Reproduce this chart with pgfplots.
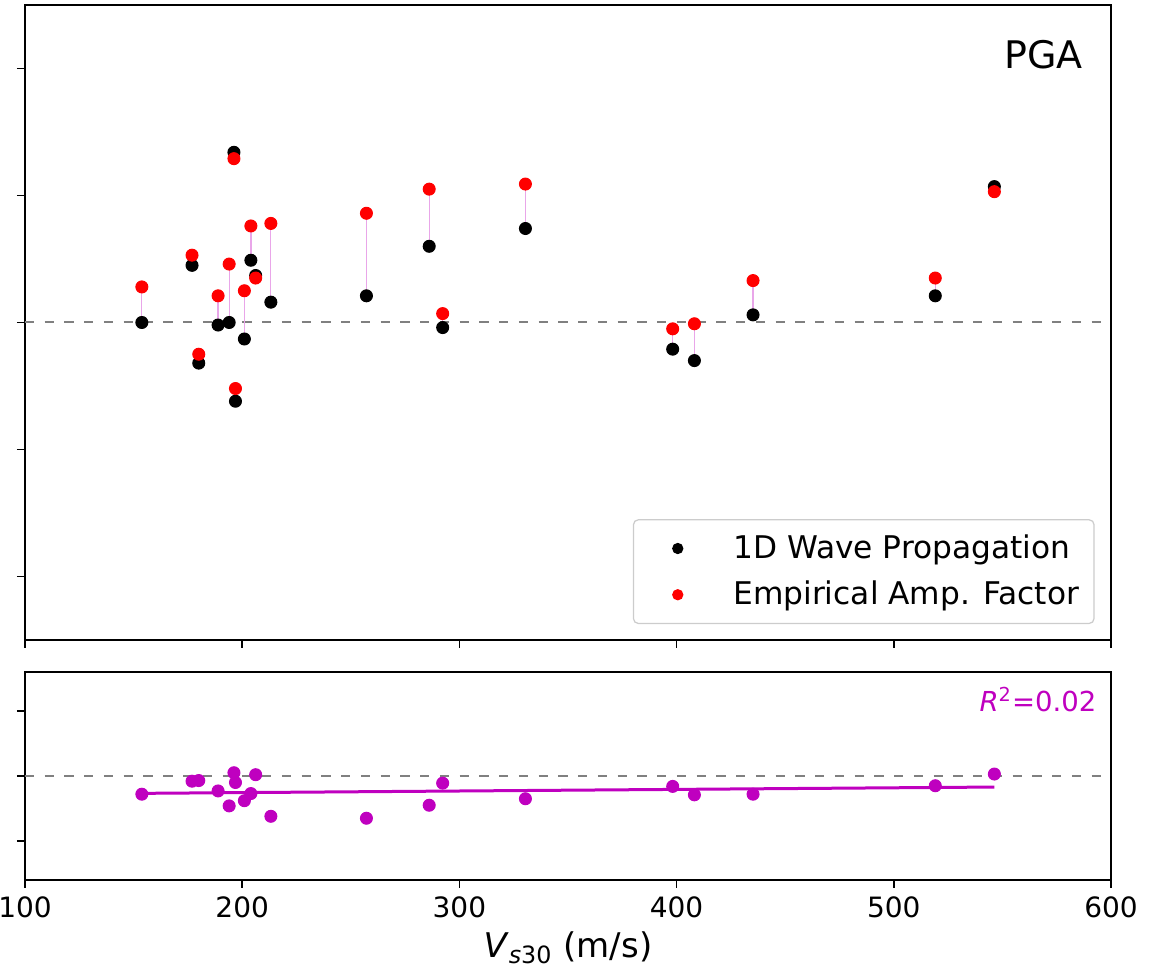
\documentclass[border=0pt]{standalone}
\usepackage{fontspec}
\setmainfont{DejaVu Sans}
\usepackage{pgfplots}
\usepackage{pgfplotstable}
\pgfplotsset{compat=1.18}
\definecolor{mpm}{rgb}{0.75,0,0.75}
\definecolor{mpred}{rgb}{1,0,0}

\pgfplotstableread{
vs    wave   emp    res
153.8  0.00  0.28  -0.28
176.9  0.45  0.53  -0.08
180.0 -0.32 -0.25  -0.07
188.9 -0.02  0.21  -0.23
194.0  0.00  0.46  -0.46
196.2  1.34  1.29   0.05
196.9 -0.62 -0.52  -0.10
201.0 -0.13  0.25  -0.38
204.0  0.49  0.76  -0.27
206.2  0.37  0.35   0.02
213.2  0.16  0.78  -0.62
257.2  0.21  0.86  -0.65
286.1  0.60  1.05  -0.45
292.3 -0.04  0.07  -0.11
330.4  0.74  1.09  -0.35
398.2 -0.21 -0.05  -0.16
408.2 -0.30 -0.01  -0.29
435.2  0.06  0.33  -0.28
519.1  0.21  0.35  -0.15
546.3  1.07  1.03   0.03
}\data

\pgfplotstableread{
vs     fit
153.8 -0.267
546.3 -0.170
}\fitdata

\begin{document}
\begin{tikzpicture}
\path[use as bounding box] (0pt,0pt) rectangle (468.4pt,387.6pt);
\pgfplotsset{
  myaxis/.style={
    scale only axis,
    width=434.4pt,
    xmin=100, xmax=600,
    xtick={100,200,...,600},
    tick align=outside,
    xtick pos=bottom, ytick pos=left,
    major tick length=3.2pt,
    axis line style={black, line width=0.6pt},
    every tick/.style={black, line width=0.6pt},
    tick label style={font=\fontsize{11.2}{13}\selectfont},
    /pgf/number format/assume math mode=true,
  }
}
\begin{axis}[myaxis,
  at={(10pt,131.6pt)}, anchor=south west,
  height=254pt,
  ymin=-2.5, ymax=2.5,
  ytick={-2,-1,0,1,2}, yticklabels={},
  xticklabels={},
  legend style={at={(0.985,0.025)}, anchor=south east, draw=black!20,
    rounded corners=2pt, line width=0.5pt,
    font=\fontsize{12.5}{15}\selectfont,
    inner xsep=4pt, inner ysep=4pt, row sep=3.5pt},
  legend cell align=left,
  legend image code/.code={\path (0pt,0pt) (33.5pt,0pt);
    \draw[#1, mark size=2pt] plot coordinates {(13.5pt,0pt)};},
]
\addplot[black!50, line width=0.8pt, dash pattern=on 3.7pt off 4.2pt, forget plot]
  coordinates {(100,0) (600,0)};
\addplot[only marks, mark=*, mark size=2.4pt, black, draw=black, fill=black]
  table[x=vs, y=wave]{\data};
\addlegendentry{1D Wave Propagation}
\addplot[mpm!35, line width=0.5pt, mark=none, forget plot,
  quiver={u=0, v=\thisrow{emp}-\thisrow{wave}}]
  table[x=vs, y=wave]{\data};
\addplot[only marks, mark=*, mark size=2.4pt, draw=mpred, fill=mpred]
  table[x=vs, y=emp]{\data};
\addlegendentry{Empirical Amp. Factor}
\node[anchor=base east, font=\fontsize{15.2}{18}\selectfont, inner sep=0pt]
  at (rel axis cs:0.9742,0.9003) {PGA};
\end{axis}

\begin{axis}[myaxis,
  at={(10pt,35.6pt)}, anchor=south west,
  height=83.2pt,
  ymin=-1.6, ymax=1.6,
  ytick={-1,0,1}, yticklabels={},
  xlabel={\textit{V}\textsubscript{\textit{s}30} (m/s)},
  xlabel style={font=\fontsize{13.6}{16}\selectfont, at={(axis description cs:0.5,0)},
    anchor=base, yshift=-31.2pt, inner sep=0pt},
]
\addplot[black!50, line width=0.8pt, dash pattern=on 3.7pt off 4.2pt]
  coordinates {(100,0) (600,0)};
\addplot[only marks, mark=*, mark size=2.4pt, draw=mpm, fill=mpm]
  table[x=vs, y=res]{\data};
\addplot[mpm, line width=1.2pt, mark=none] table[x=vs, y=fit]{\fitdata};
\node[anchor=base east, text=mpm, font=\fontsize{11}{13}\selectfont, inner sep=0pt]
  at (rel axis cs:0.987,0.809) {\textit{R}\textsuperscript{2}=0.02};
\end{axis}
\end{tikzpicture}
\end{document}
